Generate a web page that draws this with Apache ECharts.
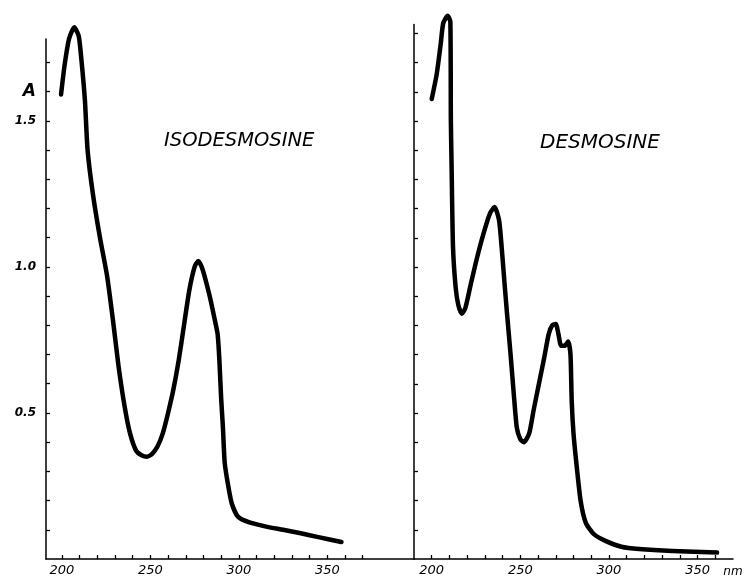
<!DOCTYPE html>
<html>
<head>
<meta charset="utf-8">
<script src="https://cdn.jsdelivr.net/npm/echarts@6/dist/echarts.min.js"></script>
<style>
html,body{margin:0;padding:0;background:#fff;}
#c{width:746px;height:578px;}
</style>
</head>
<body>
<div id="c"></div>
<script>
// ---- data ----
const isodesmosineX = [199.5,201.5,204,207,209.5,211,213,214.5,217.5,221.5,225.5,229,232,235.5,238.5,242,245,248,251,254,257,260,263,266,269,272,275,277,279,281,283.5,286,288,289,290,291,292,294,296,299.5,306,316,325,335,345,358];
const isodesmosineA = [1.59,1.69,1.78,1.82,1.79,1.71,1.57,1.40,1.25,1.10,0.97,0.81,0.66,0.52,0.43,0.37,0.355,0.35,0.36,0.385,0.43,0.50,0.58,0.68,0.80,0.92,1.00,1.02,1.00,0.96,0.90,0.83,0.77,0.68,0.55,0.45,0.33,0.25,0.19,0.145,0.125,0.11,0.10,0.088,0.075,0.058];

const desmosineX = [200,202.8,205,206.5,209,210.5,210.8,211.2,212,213.5,215,217,219,222,225.5,229.5,233,235.5,238,239.5,241,242.5,244.5,246.5,248,250,252,255,257.5,260.5,263.5,266,268,270,271.5,273,275,277,278.3,279,280,281.5,284,287,291.5,298,307,317,336,361];
const desmosineA = [1.575,1.66,1.76,1.835,1.86,1.84,1.5,1.35,1.07,0.93,0.87,0.84,0.86,0.94,1.03,1.12,1.185,1.205,1.16,1.065,0.95,0.84,0.70,0.55,0.45,0.41,0.40,0.43,0.51,0.60,0.69,0.77,0.80,0.805,0.77,0.73,0.73,0.745,0.70,0.54,0.43,0.335,0.20,0.123,0.085,0.062,0.042,0.034,0.027,0.022];

const xTickLeft = [200,210,220,230,240,250,260,270,280,290,300,310,320,330,340,350,360,370];
const xTickRight = [200,210,220,230,240,250,260,270,280,290,300,310,320,330,340,350,360];
const xLabelValues = [200,250,300,350];
const yTickLeft = [0.1,0.2,0.3,0.4,0.5,0.6,0.7,0.8,0.9,1.0,1.1,1.2,1.3,1.4,1.5,1.6,1.7];
const yTickRight = [0.1,0.2,0.3,0.4,0.5,0.6,0.7,0.8,0.9,1.0,1.1,1.2,1.3,1.4,1.5,1.6,1.7,1.8];
const yLabelValues = [0.5,1.0,1.5,1.6];
const titles = ['ISODESMOSINE','DESMOSINE'];

// ---- chart ----
const chart = echarts.init(document.getElementById('c'));
const FONT = 'DejaVu Sans';
const axisLine = {show:true, lineStyle:{color:'#000', width:1.5}};
const tickLine = {color:'#000', width:1.3};

function xAxis(grid, min, max, ticks, nameText){
  return {
    type:'value', gridIndex:grid, min:min, max:max,
    axisLine: axisLine,
    splitLine:{show:false},
    axisTick:{show:true, inside:true, length:4, customValues:ticks, lineStyle:tickLine},
    axisLabel:{show:true, customValues:xLabelValues, margin:5, color:'#000',
      fontFamily:FONT, fontStyle:'italic', fontSize:13},
    name: nameText || '',
    nameLocation:'end', nameGap:0,
    nameTextStyle:{color:'#000', fontFamily:FONT, fontStyle:'italic', fontSize:12,
      align:'center', verticalAlign:'top', padding:[7,0,0,0]}
  };
}
function pairs(xs, ys){ return xs.map((x,i)=>[x, ys[i]]); }

chart.setOption({
  animation:false,
  backgroundColor:'#fff',
  title:[
    {text:titles[0], left:164, top:131, padding:0,
      textStyle:{fontFamily:FONT, fontStyle:'italic', fontWeight:'normal', fontSize:19.5, color:'#000'}},
    {text:titles[1], left:540, top:133, padding:0,
      textStyle:{fontFamily:FONT, fontStyle:'italic', fontWeight:'normal', fontSize:20, color:'#000'}}
  ],
  grid:[
    {left:46, top:39, width:368, height:520},
    {left:414, top:24.6, width:319, height:534.4}
  ],
  xAxis:[
    xAxis(0, 191, 399, xTickLeft),
    xAxis(1, 190, 370, xTickRight, 'nm')
  ],
  yAxis:[
    {type:'value', gridIndex:0, min:0, max:1.78,
      axisLine:axisLine, splitLine:{show:false},
      axisTick:{show:true, inside:true, length:4, customValues:yTickLeft, lineStyle:tickLine},
      axisLabel:{show:true, customValues:yLabelValues, margin:10, color:'#000',
        fontFamily:FONT, fontStyle:'italic', fontWeight:'bold', fontSize:12,
        formatter:function(v){ return Math.abs(v-1.6)<1e-6 ? '{a|A}' : v.toFixed(1); },
        rich:{a:{fontFamily:FONT, fontStyle:'italic', fontSize:17, color:'#000'}}}
    },
    {type:'value', gridIndex:1, min:0, max:1.83,
      axisLine:axisLine, splitLine:{show:false},
      axisTick:{show:true, inside:true, length:4, customValues:yTickRight, lineStyle:tickLine},
      axisLabel:{show:false}
    }
  ],
  series:[
    {type:'line', xAxisIndex:0, yAxisIndex:0, data:pairs(isodesmosineX, isodesmosineA),
      showSymbol:false, clip:false, smooth:0.2,
      lineStyle:{color:'#000', width:4.5, cap:'round', join:'round'}},
    {type:'line', xAxisIndex:1, yAxisIndex:1, data:pairs(desmosineX, desmosineA),
      showSymbol:false, clip:false, smooth:0.2,
      lineStyle:{color:'#000', width:4.5, cap:'round', join:'round'}}
  ]
});
</script>
</body>
</html>
